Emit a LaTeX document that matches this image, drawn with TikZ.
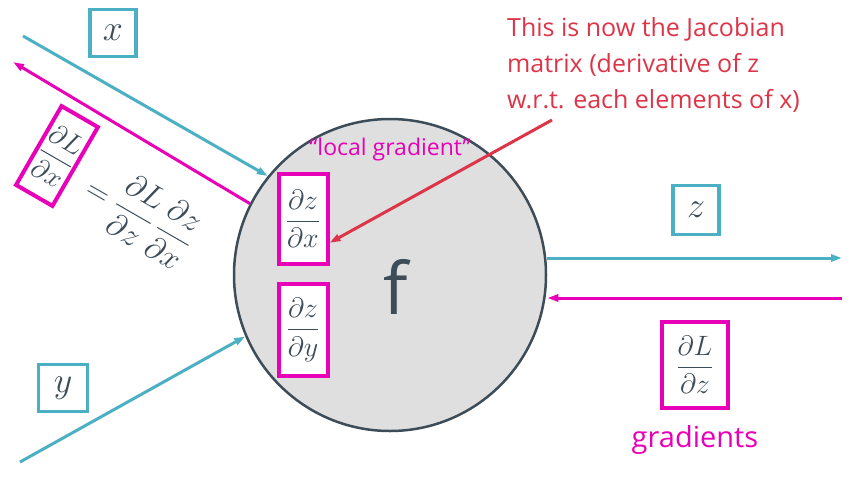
\RequirePackage{fix-cm}
\documentclass[tikz,border=0pt]{standalone}
\usepackage{fontspec}
\usepackage{amsmath}
\setmainfont{Open Sans}
\usetikzlibrary{arrows.meta}
\definecolor{fwdcol}{RGB}{75,176,195}
\definecolor{gradcol}{RGB}{232,0,184}
\definecolor{notecol}{RGB}{222,52,72}
\definecolor{inkcol}{RGB}{60,76,88}
\definecolor{unitfill}{RGB}{223,223,223}

\begin{document}
\begin{tikzpicture}
[
    x=1pt, y=-1pt,
    every node/.style={text=inkcol},
    unit/.style={circle,draw=inkcol,fill=unitfill,line width=2.5pt,minimum size=312pt,inner sep=0pt},
    mathbox/.style={rectangle,fill=white,inner sep=0pt,font=\fontsize{28}{30}\selectfont},
    varbox/.style={mathbox,draw=fwdcol,line width=3.5pt,font=\fontsize{36}{38}\selectfont},
    gradbox/.style={mathbox,draw=gradcol,line width=4pt},
    tip/.style={-{Triangle[length=11pt,width=7pt]}},
    fwd/.style={tip,draw=fwdcol,line width=3pt},
    bwd/.style={tip,draw=gradcol,line width=3pt},
    note/.style={tip,draw=notecol,line width=3pt},
]
\useasboundingbox (0,0) rectangle (857,483);

% the gate
\node (f) at (390,275) [unit] {};
\node (fname) at (396,287) [font=\fontsize{72}{72}\selectfont] {f};

% inputs and output
\node (x) at (113,33) [varbox,minimum width=46pt,minimum height=47pt] {$x$};
\node (y) at (63,388) [varbox,minimum width=49pt,minimum height=47pt] {$y$};
\node (z) at (696,210) [varbox,minimum width=46pt,minimum height=49pt] {$z$};

\coordinate (xin) at (23,36);
\coordinate (yin) at (20,462);
\coordinate (zout) at (842,258);
\coordinate (xgrad) at (13,62);
\coordinate (zgrad) at (842,298);

\draw[fwd] (xin) -- (f.141);
\draw[fwd] (yin) -- (f.203);
\draw[fwd] (f.east |- zout) -- (zout);
\draw[bwd] (zgrad) -- (f.east |- zgrad);
\draw[bwd] (f.153) -- (xgrad);

% local gradients
\node (local) at (390,150) [text=gradcol,font=\fontsize{23}{24}\selectfont] {“local gradient”};
\node (dzdx) at (303,219) [gradbox,minimum width=49pt,minimum height=90pt] {$\dfrac{\partial z}{\partial x}$};
\node (dzdy) at (303,330) [gradbox,minimum width=49pt,minimum height=92pt] {$\dfrac{\partial z}{\partial y}$};

% upstream gradient
\node (dLdz) at (695,365) [gradbox,minimum width=66pt,minimum height=86pt] {$\dfrac{\partial L}{\partial z}$};
\node (gradients) at (695,440) [text=gradcol,font=\fontsize{29}{32}\selectfont] {gradients};

% chain rule
\node (dLdx) at (57,156) [gradbox,rotate=-30,minimum width=42pt,minimum height=91pt] {$\dfrac{\partial L}{\partial x}$};
\node (chain) at (140,214) [rotate=-30,font=\fontsize{32}{34}\selectfont] {$=\dfrac{\partial L}{\partial z}\,\dfrac{\partial z}{\partial x}$};

% note
\node (jacobian) at (507,17) [anchor=north west,inner sep=0pt,align=left,text=notecol,font=\fontsize{25}{36}\selectfont] {This is now the Jacobian\\matrix (derivative of z\\w.r.t. each elements of x)};
\coordinate (notetail) at (552,120);
\draw[note] (notetail) -- (dzdx.-42);
\end{tikzpicture}
\end{document}
